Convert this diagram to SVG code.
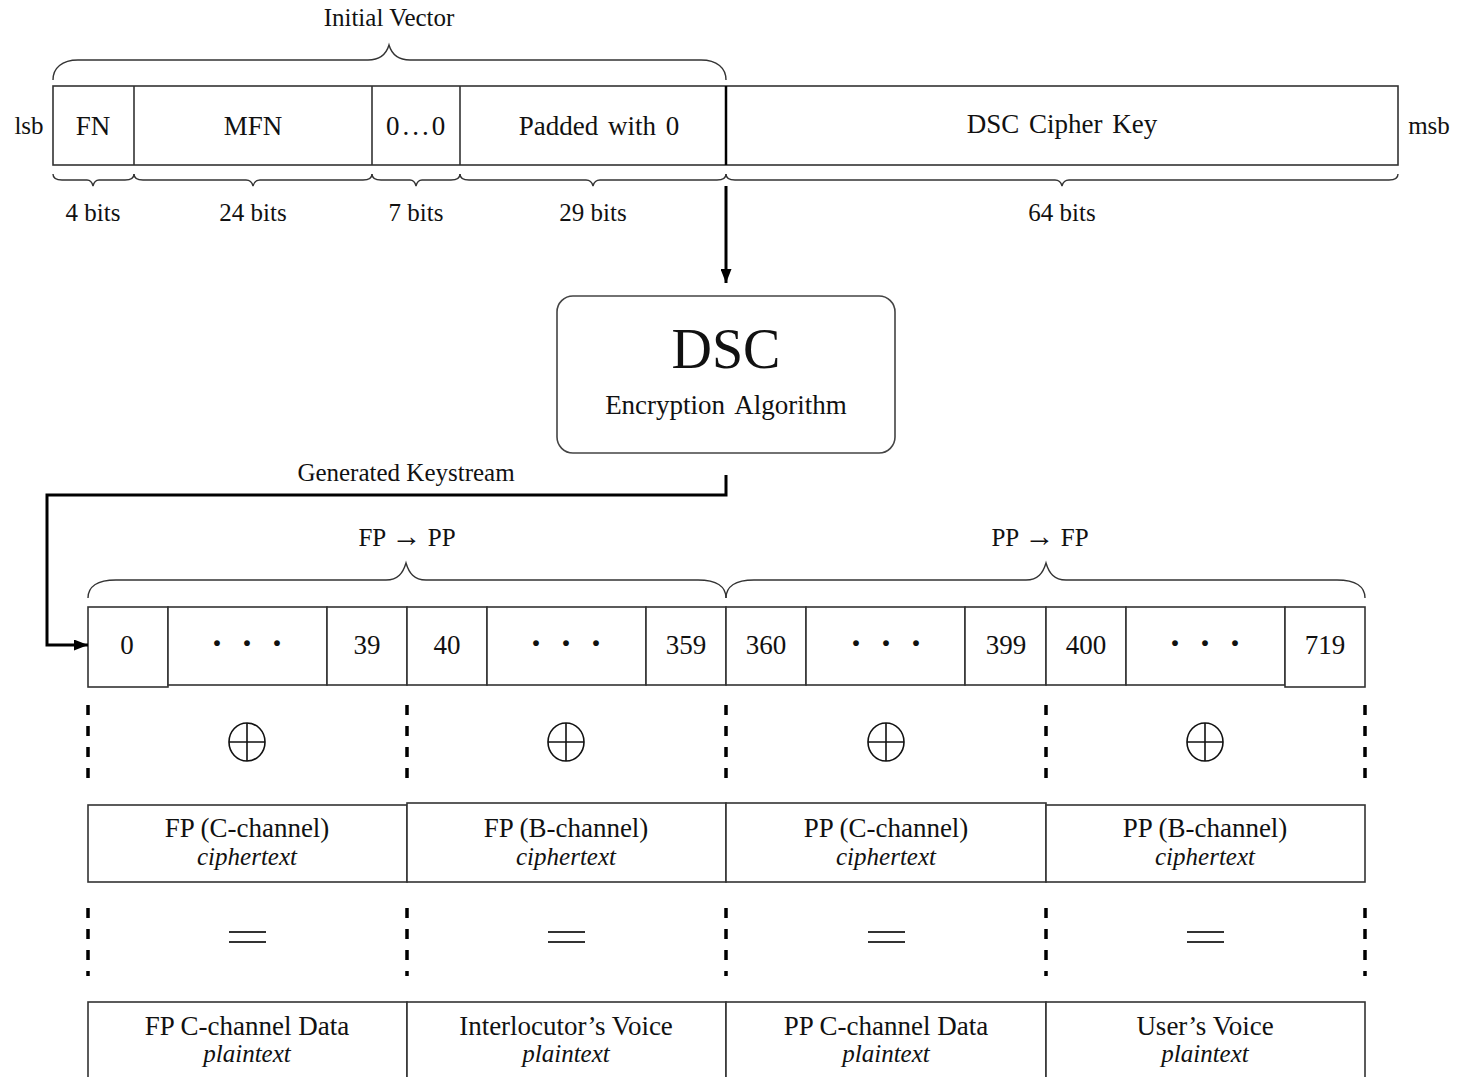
<svg xmlns="http://www.w3.org/2000/svg" width="1457" height="1077" viewBox="0 0 1457 1077">
  <style>
    text { font-family: "Liberation Serif", "Times New Roman", serif; fill: #111; text-anchor: middle; }
    .lbl { font-size: 27px; }
    .sm { font-size: 25px; }
    .it { font-size: 25px; font-style: italic; }
    .dots { font-size: 36px; font-weight: bold; letter-spacing: 18px; }
    .cell { fill: #fff; stroke: #333; stroke-width: 1.6; }
    .brace { fill: none; stroke: #333; stroke-width: 1.4; }
    .thick { fill: none; stroke: #000; stroke-width: 3; }
    .dash { stroke: #000; stroke-width: 3.5; stroke-dasharray: 10 11; }
    .op { fill: none; stroke: #111; stroke-width: 1.6; }
    .eq { stroke: #333; stroke-width: 2; }
  </style>
  <defs>
    <marker id="head" viewBox="0 0 14 11" refX="14" refY="5.5" markerWidth="14" markerHeight="11" markerUnits="userSpaceOnUse" orient="auto">
      <path d="M0,0 L14,5.5 L0,11 Z" fill="#000"/>
    </marker>
  </defs>

  <!-- initialisation vector + cipher key register -->
  <g id="iv-register">
    <text class="sm" x="29" y="134">lsb</text>
    <rect class="cell" x="53" y="86" width="1345" height="79"/>
    <line class="cell" x1="134" y1="86" x2="134" y2="165"/>
    <line class="cell" x1="372" y1="86" x2="372" y2="165"/>
    <line class="cell" x1="460" y1="86" x2="460" y2="165"/>
    <line stroke="#000" stroke-width="2.5" x1="726" y1="86" x2="726" y2="165"/>
    <text class="lbl" x="93" y="135">FN</text>
    <text class="lbl" x="253" y="135">MFN</text>
    <text class="lbl" x="417" y="135" letter-spacing="3">0...0</text>
    <text class="lbl" x="599" y="135" word-spacing="3">Padded with 0</text>
    <text class="lbl" x="1062" y="133" word-spacing="3">DSC Cipher Key</text>
    <text class="sm" x="1429" y="134">msb</text>
  </g>

  <!-- brace over the initial vector -->
  <g id="iv-brace">
    <path class="brace" d="M53,80 C53,68 62,60 78,60 L368,60 C379,60 386,55 389,45 C392,55 399,60 410,60 L701,60 C717,60 726,68 726,80"/>
    <text class="sm" x="389" y="26">Initial Vector</text>
  </g>

  <!-- bit-width braces -->
  <g id="bit-widths">
    <path class="brace" d="M53,174 C53,178 56,180 62,180 L87,180 C90,180 92,182 93,186 C94,182 96,180 99,180 L125,180 C131,180 134,178 134,174"/>
    <path class="brace" d="M134,174 C134,178 137,180 143,180 L246,180 C250,180 252,182 253,186 C254,182 256,180 260,180 L363,180 C369,180 372,178 372,174"/>
    <path class="brace" d="M372,174 C372,178 375,180 381,180 L410,180 C413,180 415,182 416,186 C417,182 419,180 422,180 L451,180 C457,180 460,178 460,174"/>
    <path class="brace" d="M460,174 C460,178 463,180 469,180 L586,180 C590,180 592,182 593,186 C594,182 596,180 600,180 L717,180 C723,180 726,178 726,174"/>
    <path class="brace" d="M726,174 C726,178 729,180 735,180 L1055,180 C1059,180 1061,182 1062,186 C1063,182 1065,180 1069,180 L1389,180 C1395,180 1398,178 1398,174"/>
    <text class="sm" x="93" y="221">4 bits</text>
    <text class="sm" x="253" y="221">24 bits</text>
    <text class="sm" x="416" y="221">7 bits</text>
    <text class="sm" x="593" y="221">29 bits</text>
    <text class="sm" x="1062" y="221">64 bits</text>
  </g>

  <!-- cipher block -->
  <g id="dsc">
    <rect x="557" y="296" width="338" height="157" rx="16" fill="#fff" stroke="#444" stroke-width="1.6"/>
    <text x="726" y="368" font-size="56">DSC</text>
    <text x="726" y="414" font-size="27" word-spacing="4">Encryption Algorithm</text>
  </g>

  <!-- keystream register -->
  <g id="keystream">
    <rect class="cell" x="88" y="607" width="80" height="80"/>
    <rect class="cell" x="168" y="607" width="159" height="78"/>
    <rect class="cell" x="327" y="607" width="80" height="78"/>
    <rect class="cell" x="407" y="607" width="80" height="78"/>
    <rect class="cell" x="487" y="607" width="159" height="78"/>
    <rect class="cell" x="646" y="607" width="80" height="78"/>
    <rect class="cell" x="726" y="607" width="80" height="78"/>
    <rect class="cell" x="806" y="607" width="159" height="78"/>
    <rect class="cell" x="965" y="607" width="81" height="78"/>
    <rect class="cell" x="1046" y="607" width="80" height="78"/>
    <rect class="cell" x="1126" y="607" width="159" height="78"/>
    <rect class="cell" x="1285" y="607" width="80" height="80"/>
    <text class="lbl" x="127" y="654">0</text>
    <text class="dots" x="256" y="655">···</text>
    <text class="lbl" x="367" y="654">39</text>
    <text class="lbl" x="447" y="654">40</text>
    <text class="dots" x="575" y="655">···</text>
    <text class="lbl" x="686" y="654">359</text>
    <text class="lbl" x="766" y="654">360</text>
    <text class="dots" x="895" y="655">···</text>
    <text class="lbl" x="1006" y="654">399</text>
    <text class="lbl" x="1086" y="654">400</text>
    <text class="dots" x="1214" y="655">···</text>
    <text class="lbl" x="1325" y="654">719</text>
  </g>

  <!-- direction braces over the keystream -->
  <g id="directions">
    <path class="brace" d="M88,598 C88,587 97,580 116,580 L386,580 C398,580 403,573 406,563 C409,573 414,580 426,580 L698,580 C717,580 726,587 726,598"/>
    <path class="brace" d="M726,598 C726,587 735,580 754,580 L1026,580 C1038,580 1043,573 1046,563 C1049,573 1054,580 1066,580 L1337,580 C1356,580 1365,587 1365,598"/>
    <text class="sm" x="407" y="546">FP <tspan font-size="30">→</tspan> PP</text>
    <text class="sm" x="1040" y="546">PP <tspan font-size="30">→</tspan> FP</text>
  </g>

  <!-- column separators and operators -->
  <g id="operators">
    <line class="dash" x1="88" y1="705" x2="88" y2="778"/>
    <line class="dash" x1="407" y1="705" x2="407" y2="778"/>
    <line class="dash" x1="726" y1="705" x2="726" y2="778"/>
    <line class="dash" x1="1046" y1="705" x2="1046" y2="778"/>
    <line class="dash" x1="1365" y1="705" x2="1365" y2="778"/>
    <g class="op">
      <ellipse cx="247" cy="742" rx="18" ry="19"/><path d="M229,742 H265 M247,723 V761"/>
      <ellipse cx="566" cy="742" rx="18" ry="19"/><path d="M548,742 H584 M566,723 V761"/>
      <ellipse cx="886" cy="742" rx="18" ry="19"/><path d="M868,742 H904 M886,723 V761"/>
      <ellipse cx="1205" cy="742" rx="18" ry="19"/><path d="M1187,742 H1223 M1205,723 V761"/>
    </g>
    <line class="dash" x1="88" y1="908" x2="88" y2="976"/>
    <line class="dash" x1="407" y1="908" x2="407" y2="976"/>
    <line class="dash" x1="726" y1="908" x2="726" y2="976"/>
    <line class="dash" x1="1046" y1="908" x2="1046" y2="976"/>
    <line class="dash" x1="1365" y1="908" x2="1365" y2="976"/>
    <g class="eq">
      <path d="M229,932 H266 M229,942 H266"/>
      <path d="M548,932 H585 M548,942 H585"/>
      <path d="M868,932 H905 M868,942 H905"/>
      <path d="M1187,932 H1224 M1187,942 H1224"/>
    </g>
  </g>

  <!-- ciphertext fields -->
  <g id="ciphertext">
    <rect class="cell" x="88" y="805" width="319" height="77"/>
    <rect class="cell" x="407" y="803" width="319" height="79"/>
    <rect class="cell" x="726" y="803" width="320" height="79"/>
    <rect class="cell" x="1046" y="805" width="319" height="77"/>
    <text class="lbl" x="247" y="837">FP (C-channel)</text>
    <text class="it" x="247" y="865">ciphertext</text>
    <text class="lbl" x="566" y="837">FP (B-channel)</text>
    <text class="it" x="566" y="865">ciphertext</text>
    <text class="lbl" x="886" y="837">PP (C-channel)</text>
    <text class="it" x="886" y="865">ciphertext</text>
    <text class="lbl" x="1205" y="837">PP (B-channel)</text>
    <text class="it" x="1205" y="865">ciphertext</text>
  </g>

  <!-- plaintext fields -->
  <g id="plaintext">
    <rect class="cell" x="88" y="1002" width="319" height="90"/>
    <rect class="cell" x="407" y="1002" width="319" height="90"/>
    <rect class="cell" x="726" y="1002" width="320" height="90"/>
    <rect class="cell" x="1046" y="1002" width="319" height="90"/>
    <text class="lbl" x="247" y="1035">FP C-channel Data</text>
    <text class="it" x="247" y="1062">plaintext</text>
    <text class="lbl" x="566" y="1035">Interlocutor’s Voice</text>
    <text class="it" x="566" y="1062">plaintext</text>
    <text class="lbl" x="886" y="1035">PP C-channel Data</text>
    <text class="it" x="886" y="1062">plaintext</text>
    <text class="lbl" x="1205" y="1035">User’s Voice</text>
    <text class="it" x="1205" y="1062">plaintext</text>
  </g>

  <!-- connectors -->
  <g id="connectors">
    <line class="thick" x1="726" y1="186" x2="726" y2="283" marker-end="url(#head)"/>
    <path class="thick" d="M726,475 V495 H47 V645 H88" marker-end="url(#head)"/>
    <text x="406" y="481" font-size="25">Generated Keystream</text>
  </g>
</svg>
